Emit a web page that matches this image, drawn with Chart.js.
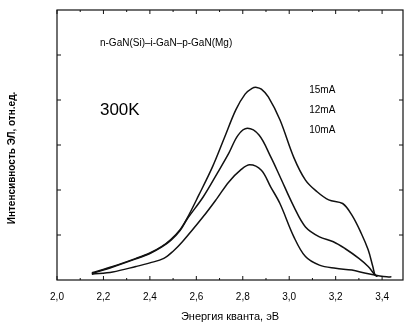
<!DOCTYPE html>
<html>
<head>
<meta charset="utf-8">
<script src="https://cdn.jsdelivr.net/npm/chart.js@4"></script>
<style>
  html, body { margin: 0; padding: 0; background: #fff; }
  #wrap { width: 404px; height: 325px; }
</style>
</head>
<body>
<div id="wrap"><canvas id="elChart"></canvas></div>
<script>
// --- Data (photon energy, eV / EL intensity, arb. units) ---
const energy15 = [2.15, 2.24, 2.34, 2.40, 2.45, 2.49, 2.53, 2.56, 2.61, 2.67, 2.72, 2.77, 2.81, 2.84, 2.86, 2.88, 2.91, 2.96, 3.02, 3.07, 3.12, 3.17, 3.23, 3.27, 3.31, 3.34, 3.36, 3.37, 3.38];
const intensity15 = [0.16, 0.30, 0.48, 0.60, 0.74, 0.90, 1.12, 1.37, 1.88, 2.52, 3.15, 3.78, 4.13, 4.26, 4.28, 4.24, 4.07, 3.56, 2.72, 2.22, 1.96, 1.78, 1.70, 1.44, 1.04, 0.67, 0.30, 0.11, 0.08];

const energy12 = [2.15, 2.24, 2.34, 2.40, 2.45, 2.49, 2.53, 2.56, 2.63, 2.69, 2.74, 2.78, 2.82, 2.87, 2.92, 2.96, 3.02, 3.07, 3.13, 3.19, 3.24, 3.30, 3.34, 3.37, 3.38];
const intensity12 = [0.14, 0.29, 0.47, 0.59, 0.73, 0.88, 1.10, 1.35, 1.85, 2.37, 2.82, 3.22, 3.37, 3.22, 2.74, 2.30, 1.63, 1.18, 0.96, 0.85, 0.70, 0.48, 0.30, 0.11, 0.08];

const energy10 = [2.15, 2.24, 2.34, 2.40, 2.46, 2.50, 2.54, 2.63, 2.69, 2.74, 2.79, 2.83, 2.88, 2.92, 2.96, 3.02, 3.07, 3.13, 3.20, 3.27, 3.33, 3.39, 3.42, 3.44];
const intensity10 = [0.13, 0.18, 0.30, 0.38, 0.48, 0.64, 0.85, 1.41, 1.82, 2.18, 2.44, 2.56, 2.44, 2.07, 1.70, 0.96, 0.52, 0.33, 0.26, 0.22, 0.15, 0.09, 0.07, 0.07];

const currentLabels = ['15mA', '12mA', '10mA'];

const INK = '#000';
const FONT = '"Liberation Sans", Arial, sans-serif';

function toPoints(xs, ys) {
    return xs.map((x, i) => ({ x: x, y: ys[i] }));
}

function lineSet(label, xs, ys) {
    return {
        label: label,
        data: toPoints(xs, ys),
        borderColor: '#111',
        borderWidth: 1.5,
        pointRadius: 0,
        fill: false,
        tension: 0.35
    };
}

// frame + inward ticks + text inside the plot
const framePlugin = {
    id: 'frame',
    afterDraw(chart) {
        const { ctx, chartArea: a, scales: { x, y } } = chart;
        ctx.save();
        ctx.strokeStyle = '#111';
        ctx.lineWidth = 1.2;
        ctx.strokeRect(a.left, a.top, a.right - a.left, a.bottom - a.top);

        ctx.lineWidth = 1;
        ctx.beginPath();
        for (let v = 2.0; v <= 3.45; v += 0.1) {
            const px = x.getPixelForValue(v);
            const major = Math.round(v * 10) % 2 === 0;
            const len = major ? 4 : 2;
            ctx.moveTo(px, a.bottom); ctx.lineTo(px, a.bottom - len);
            ctx.moveTo(px, a.top); ctx.lineTo(px, a.top + len);
        }
        for (let v = 1; v < 6; v++) {
            const py = y.getPixelForValue(v);
            ctx.moveTo(a.left, py); ctx.lineTo(a.left + 4, py);
            ctx.moveTo(a.right, py); ctx.lineTo(a.right - 4, py);
        }
        ctx.stroke();

        ctx.fillStyle = INK;
        ctx.textBaseline = 'middle';
        ctx.textAlign = 'left';
        ctx.font = '10px ' + FONT;
        ctx.fillText('n-GaN(Si)–i-GaN–p-GaN(Mg)', x.getPixelForValue(2.185), y.getPixelForValue(5.27));
        ctx.font = '17px ' + FONT;
        ctx.fillText('300K', x.getPixelForValue(2.185), y.getPixelForValue(3.78));
        ctx.font = '10px ' + FONT;
        const labelY = [4.22, 3.78, 3.33];
        currentLabels.forEach((t, i) => {
            ctx.fillText(t, x.getPixelForValue(3.086), y.getPixelForValue(labelY[i]));
        });

        // y axis title, sits a little below the plot middle as in the source figure
        ctx.translate(12, 158);
        ctx.rotate(-Math.PI / 2);
        ctx.textAlign = 'center';
        ctx.font = 'bold 10px ' + FONT;
        ctx.fillText('Интенсивность ЭЛ, отн.ед.', 0, 0);
        ctx.restore();
    }
};

const ctx = document.getElementById('elChart').getContext('2d');

new Chart(ctx, {
    type: 'line',
    data: {
        datasets: [
            lineSet(currentLabels[0], energy15, intensity15),
            lineSet(currentLabels[1], energy12, intensity12),
            lineSet(currentLabels[2], energy10, intensity10)
        ]
    },
    options: {
        responsive: true,
        maintainAspectRatio: false,
        animation: false,
        layout: { padding: { left: 0, right: 1, top: 10, bottom: 0 } },
        plugins: {
            legend: { display: false },
            tooltip: { enabled: false }
        },
        scales: {
            x: {
                type: 'linear',
                min: 2.0,
                max: 3.49,
                grid: { display: false, drawTicks: false },
                border: { display: false },
                ticks: {
                    stepSize: 0.2,
                    includeBounds: false,
                    padding: 11,
                    color: INK,
                    font: { family: FONT, size: 10 },
                    callback: v => v.toFixed(1).replace('.', ',')
                },
                title: {
                    display: true,
                    text: 'Энергия кванта, эВ',
                    color: INK,
                    font: { family: FONT, size: 11 },
                    padding: { top: 4, bottom: 1 }
                },
                afterFit: s => { s.height = 45; }
            },
            y: {
                min: 0,
                max: 6,
                grid: { display: false, drawTicks: false },
                border: { display: false },
                ticks: { display: false },
                afterFit: s => { s.width = 57; }
            }
        }
    },
    plugins: [framePlugin]
});
</script>
</body>
</html>
